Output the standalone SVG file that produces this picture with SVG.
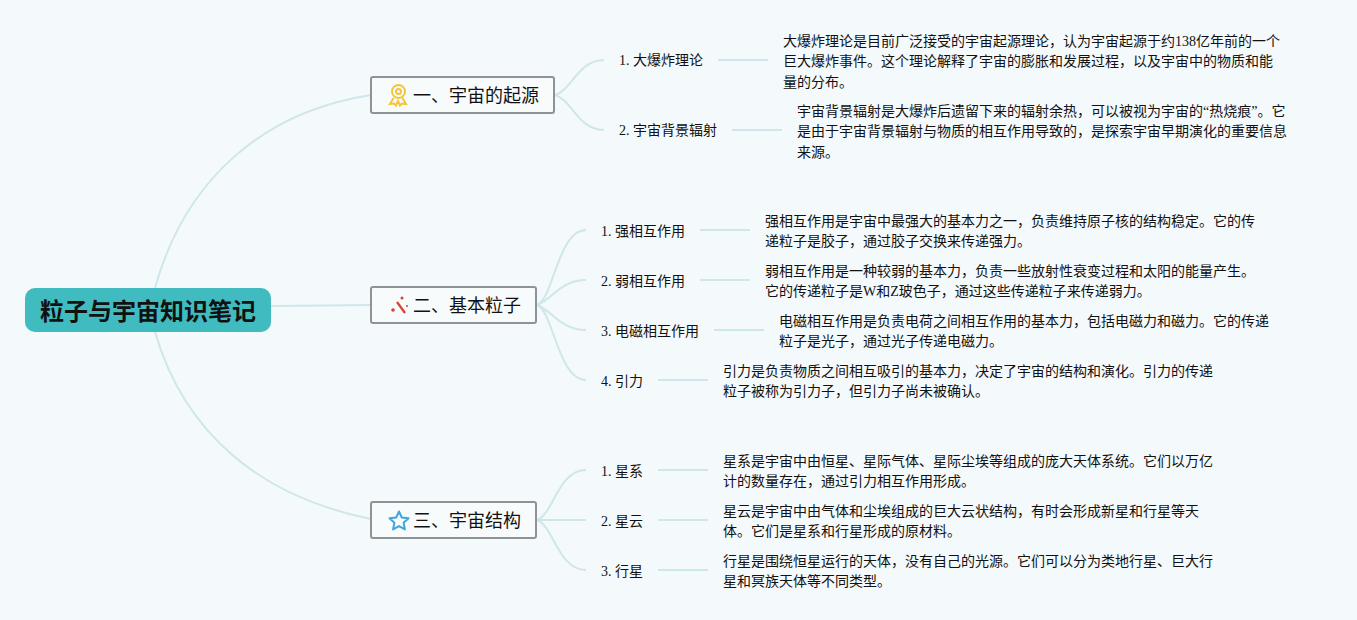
<svg xmlns="http://www.w3.org/2000/svg" width="1357" height="620" viewBox="0 0 1357 620">
<style>
text{font-family:"Liberation Serif","Noto Sans CJK SC",serif;fill:#111}
.t{font-size:14px}
.b{font-size:18px}
.r{font-size:24px;font-weight:bold}
.box{fill:#f8fbfc;stroke:#8f9396;stroke-width:2}
.c path{fill:none;stroke:#cfe6ea;stroke-width:2}
</style>
<rect width="1357" height="620" fill="#f4f9fb"/>
<g class="c" id="connectors">
<path d="M155 288C185 180 262 112 371 95"/>
<path d="M155 332C185 435 262 497 371 519"/>
<path d="M271 306C300 306 340 305 371 305"/>
<path d="M555 95C572 90 578 60 604 60"/>
<path d="M555 95C572 100 578 130 604 130"/>
<path d="M537 305C553 300 558 230 586 230"/>
<path d="M537 305C552 300 560 280 586 280"/>
<path d="M537 305C552 310 560 330 586 330"/>
<path d="M537 305C553 310 558 380 586 380"/>
<path d="M537 520C553 515 558 470 586 470"/>
<path d="M537 520H586"/>
<path d="M537 520C553 525 558 570 586 570"/>
<path d="M718 60H768"/>
<path d="M732 130H782"/>
<path d="M700 230H750"/>
<path d="M700 280H750"/>
<path d="M714 330H764"/>
<path d="M658 380H708"/>
<path d="M658 470H708"/>
<path d="M658 520H708"/>
<path d="M658 570H708"/>
</g>
<g id="root"><rect x="25" y="288" width="246" height="44" rx="10" fill="#40bcc0"/><text class="r" x="40" y="320">粒子与宇宙知识笔记</text></g>
<g id="b1"><rect class="box" x="371" y="77" width="183" height="36" rx="2"/>
<g fill="none" stroke="#f6c437" stroke-width="2"><circle cx="398.500" cy="91.500" r="6.500"/><circle cx="398.500" cy="91.500" r="2.500"/><path d="M393.500 98l-3.500 6 4-.5 2 2 2-4.500 2 4.500 2-2 4 .5-3.500-6"/></g>
<text class="b" x="413" y="102">一、宇宙的起源</text></g>
<g id="b2"><rect class="box" x="371" y="287" width="165" height="36" rx="2"/>
<path d="M397 302L405 313" fill="none" stroke="#d8402f" stroke-width="2.200"/><g fill="#d8402f"><circle cx="402" cy="298" r="1.500"/><circle cx="393" cy="310" r="1.800"/><circle cx="407" cy="306" r="1"/></g>
<text class="b" x="413" y="312">二、基本粒子</text></g>
<g id="b3"><rect class="box" x="371" y="502" width="165" height="36" rx="2"/>
<path d="M399 511.500l2.800 6 6.700.8-4.900 4.500 1.300 6.600-5.900-3.300-5.900 3.300 1.300-6.600-4.900-4.500 6.700-.8z" fill="none" stroke="#3ea6dd" stroke-width="2" stroke-linejoin="round"/>
<text class="b" x="413" y="527">三、宇宙结构</text></g>
<g id="n11"><text class="t" x="619" y="65">1. 大爆炸理论</text></g>
<g id="d11"><text class="t" x="783" y="46">大爆炸理论是目前广泛接受的宇宙起源理论，认为宇宙起源于约138亿年前的一个</text><text class="t" x="783" y="66">巨大爆炸事件。这个理论解释了宇宙的膨胀和发展过程，以及宇宙中的物质和能</text><text class="t" x="783" y="87">量的分布。</text></g>
<g id="n12"><text class="t" x="619" y="135">2. 宇宙背景辐射</text></g>
<g id="d12"><text class="t" x="797" y="116">宇宙背景辐射是大爆炸后遗留下来的辐射余热，可以被视为宇宙的“热烧痕”。它</text><text class="t" x="797" y="136">是由于宇宙背景辐射与物质的相互作用导致的，是探索宇宙早期演化的重要信息</text><text class="t" x="797" y="157">来源。</text></g>
<g id="n21"><text class="t" x="601" y="236">1. 强相互作用</text></g>
<g id="d21"><text class="t" x="765" y="226">强相互作用是宇宙中最强大的基本力之一，负责维持原子核的结构稳定。它的传</text><text class="t" x="765" y="246">递粒子是胶子，通过胶子交换来传递强力。</text></g>
<g id="n22"><text class="t" x="601" y="286">2. 弱相互作用</text></g>
<g id="d22"><text class="t" x="765" y="276">弱相互作用是一种较弱的基本力，负责一些放射性衰变过程和太阳的能量产生。</text><text class="t" x="765" y="296">它的传递粒子是W和Z玻色子，通过这些传递粒子来传递弱力。</text></g>
<g id="n23"><text class="t" x="601" y="336">3. 电磁相互作用</text></g>
<g id="d23"><text class="t" x="779" y="326">电磁相互作用是负责电荷之间相互作用的基本力，包括电磁力和磁力。它的传递</text><text class="t" x="779" y="346">粒子是光子，通过光子传递电磁力。</text></g>
<g id="n24"><text class="t" x="601" y="386">4. 引力</text></g>
<g id="d24"><text class="t" x="723" y="376">引力是负责物质之间相互吸引的基本力，决定了宇宙的结构和演化。引力的传递</text><text class="t" x="723" y="396">粒子被称为引力子，但引力子尚未被确认。</text></g>
<g id="n31"><text class="t" x="601" y="476">1. 星系</text></g>
<g id="d31"><text class="t" x="723" y="466">星系是宇宙中由恒星、星际气体、星际尘埃等组成的庞大天体系统。它们以万亿</text><text class="t" x="723" y="486">计的数量存在，通过引力相互作用形成。</text></g>
<g id="n32"><text class="t" x="601" y="526">2. 星云</text></g>
<g id="d32"><text class="t" x="723" y="516">星云是宇宙中由气体和尘埃组成的巨大云状结构，有时会形成新星和行星等天</text><text class="t" x="723" y="536">体。它们是星系和行星形成的原材料。</text></g>
<g id="n33"><text class="t" x="601" y="576">3. 行星</text></g>
<g id="d33"><text class="t" x="723" y="566">行星是围绕恒星运行的天体，没有自己的光源。它们可以分为类地行星、巨大行</text><text class="t" x="723" y="586">星和冥族天体等不同类型。</text></g>
</svg>
